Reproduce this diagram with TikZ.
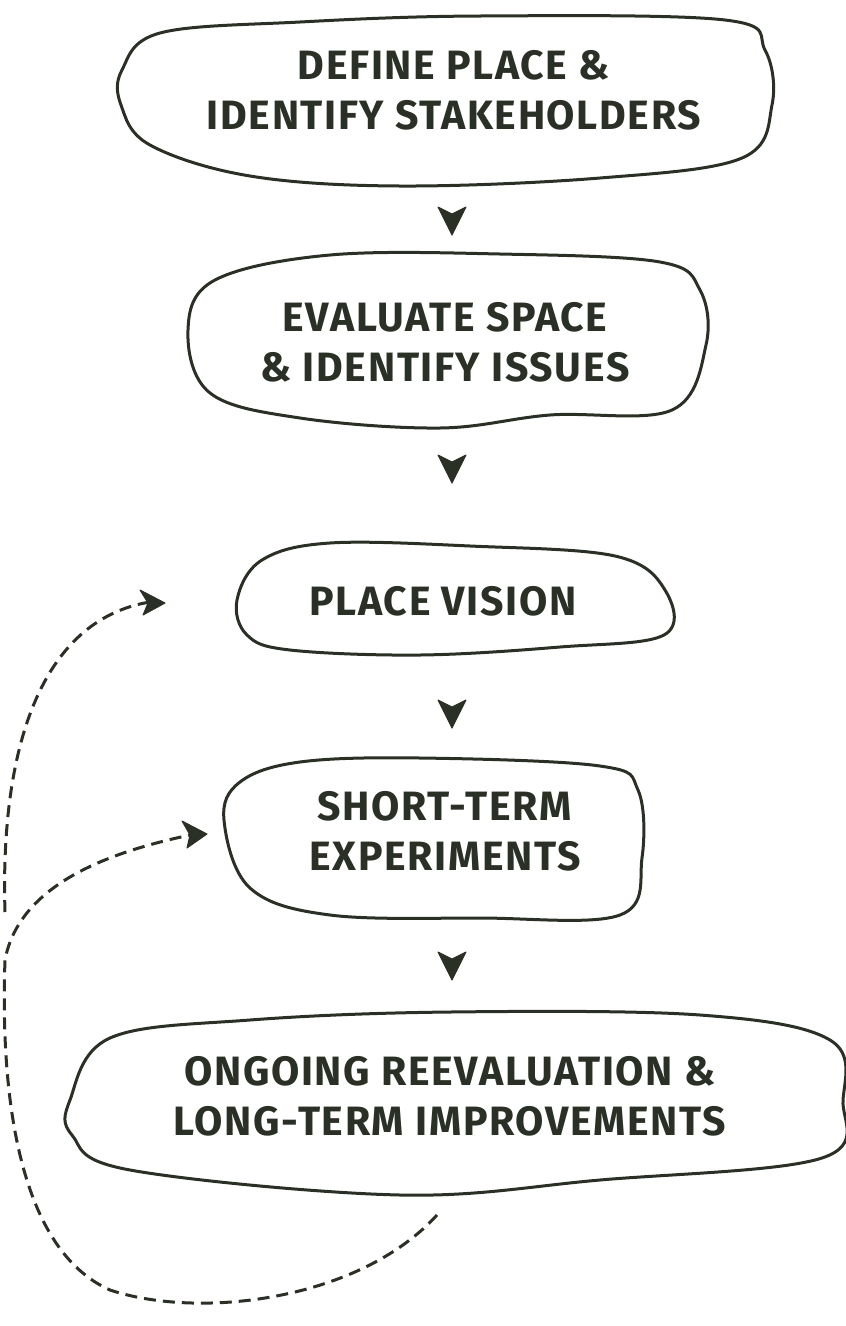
\documentclass[tikz,border=0pt]{standalone}
\usepackage{fontspec}
\setmainfont{Fira Sans}[LetterSpace=4]
\begin{document}
\begin{tikzpicture}[x=1pt,y=-1pt,
  ink/.style={draw=dk,line width=3pt,line join=round},
  lbl/.style={font=\fontsize{41}{50}\selectfont\bfseries,text=dk,align=center,inner sep=0},
  dsh/.style={draw=dk,line width=3pt,dash pattern=on 12pt off 7pt},
  chev/.style={fill=dk,draw=dk,line width=1pt,line join=round}]
\definecolor{dk}{HTML}{2B3026}
\useasboundingbox (0,0) rectangle (846,1326);
% blobs
\draw[ink] plot[smooth cycle,tension=0.6] coordinates{(122,70)(160,33)(300,22)(480,16)(725,20)(765,50)(772,105)(742,158)(600,178)(400,186)(250,176)(150,145)(121,105)};
\draw[ink] plot[smooth cycle,tension=0.6] coordinates{(188,330)(215,280)(330,255)(500,254)(660,262)(700,290)(706,345)(672,410)(550,415)(440,428)(300,418)(210,393)};
\draw[ink] plot[smooth cycle,tension=0.6] coordinates{(237,600)(262,560)(330,543)(470,546)(615,556)(665,590)(664,635)(560,647)(420,655)(290,650)(247,635)};
\draw[ink] plot[smooth cycle,tension=0.6] coordinates{(224,820)(240,782)(300,762)(420,758)(600,766)(638,790)(642,858)(620,915)(480,918)(330,915)(250,888)};
\draw[ink] plot[smooth cycle,tension=0.6] coordinates{(70,1100)(110,1038)(250,1020)(450,1012)(700,1015)(830,1040)(843,1100)(822,1158)(600,1180)(400,1195)(130,1170)(72,1135)};
% texts
\node[lbl] (n1) at (454,90) {DEFINE PLACE \&\\IDENTIFY STAKEHOLDERS};
\node[lbl] (n2) at (445,342) {EVALUATE SPACE\\\& IDENTIFY ISSUES};
\node[lbl] (n3) at (443,601) {PLACE VISION};
\node[lbl] (n4) at (445,831) {SHORT-TERM\\EXPERIMENTS};
\node[lbl] (n5) at (450,1096) {ONGOING REEVALUATION \&\\LONG-TERM IMPROVEMENTS};
% down chevrons
\foreach \y in {215,463,708,960}{
  \fill[chev] (438,\y-8) -- (452,\y-1) -- (466,\y-8) -- (452,\y+20) -- cycle;}
% dashed loops
\coordinate (s1) at (5,912);
\coordinate (e1) at (150,602);
\draw[dsh] (s1) .. controls (0,750) and (40,620) .. (e1);
\fill[chev] (e1) ++(-10,-12) -- ++(25,13) -- ++(-22,12) -- ++(5,-12) -- cycle;
\coordinate (s2) at (437,1215);
\coordinate (e2) at (190,835);
\draw[dsh] (s2) .. controls (360,1300) and (200,1320) .. (110,1290)
  .. controls (20,1250) and (0,1100) .. (5,960)
  .. controls (20,880) and (120,850) .. (e2);
\fill[chev] (e2) ++(-8,-14) -- ++(25,13) -- ++(-20,14) -- ++(3,-13) -- cycle;
\end{tikzpicture}
\end{document}
